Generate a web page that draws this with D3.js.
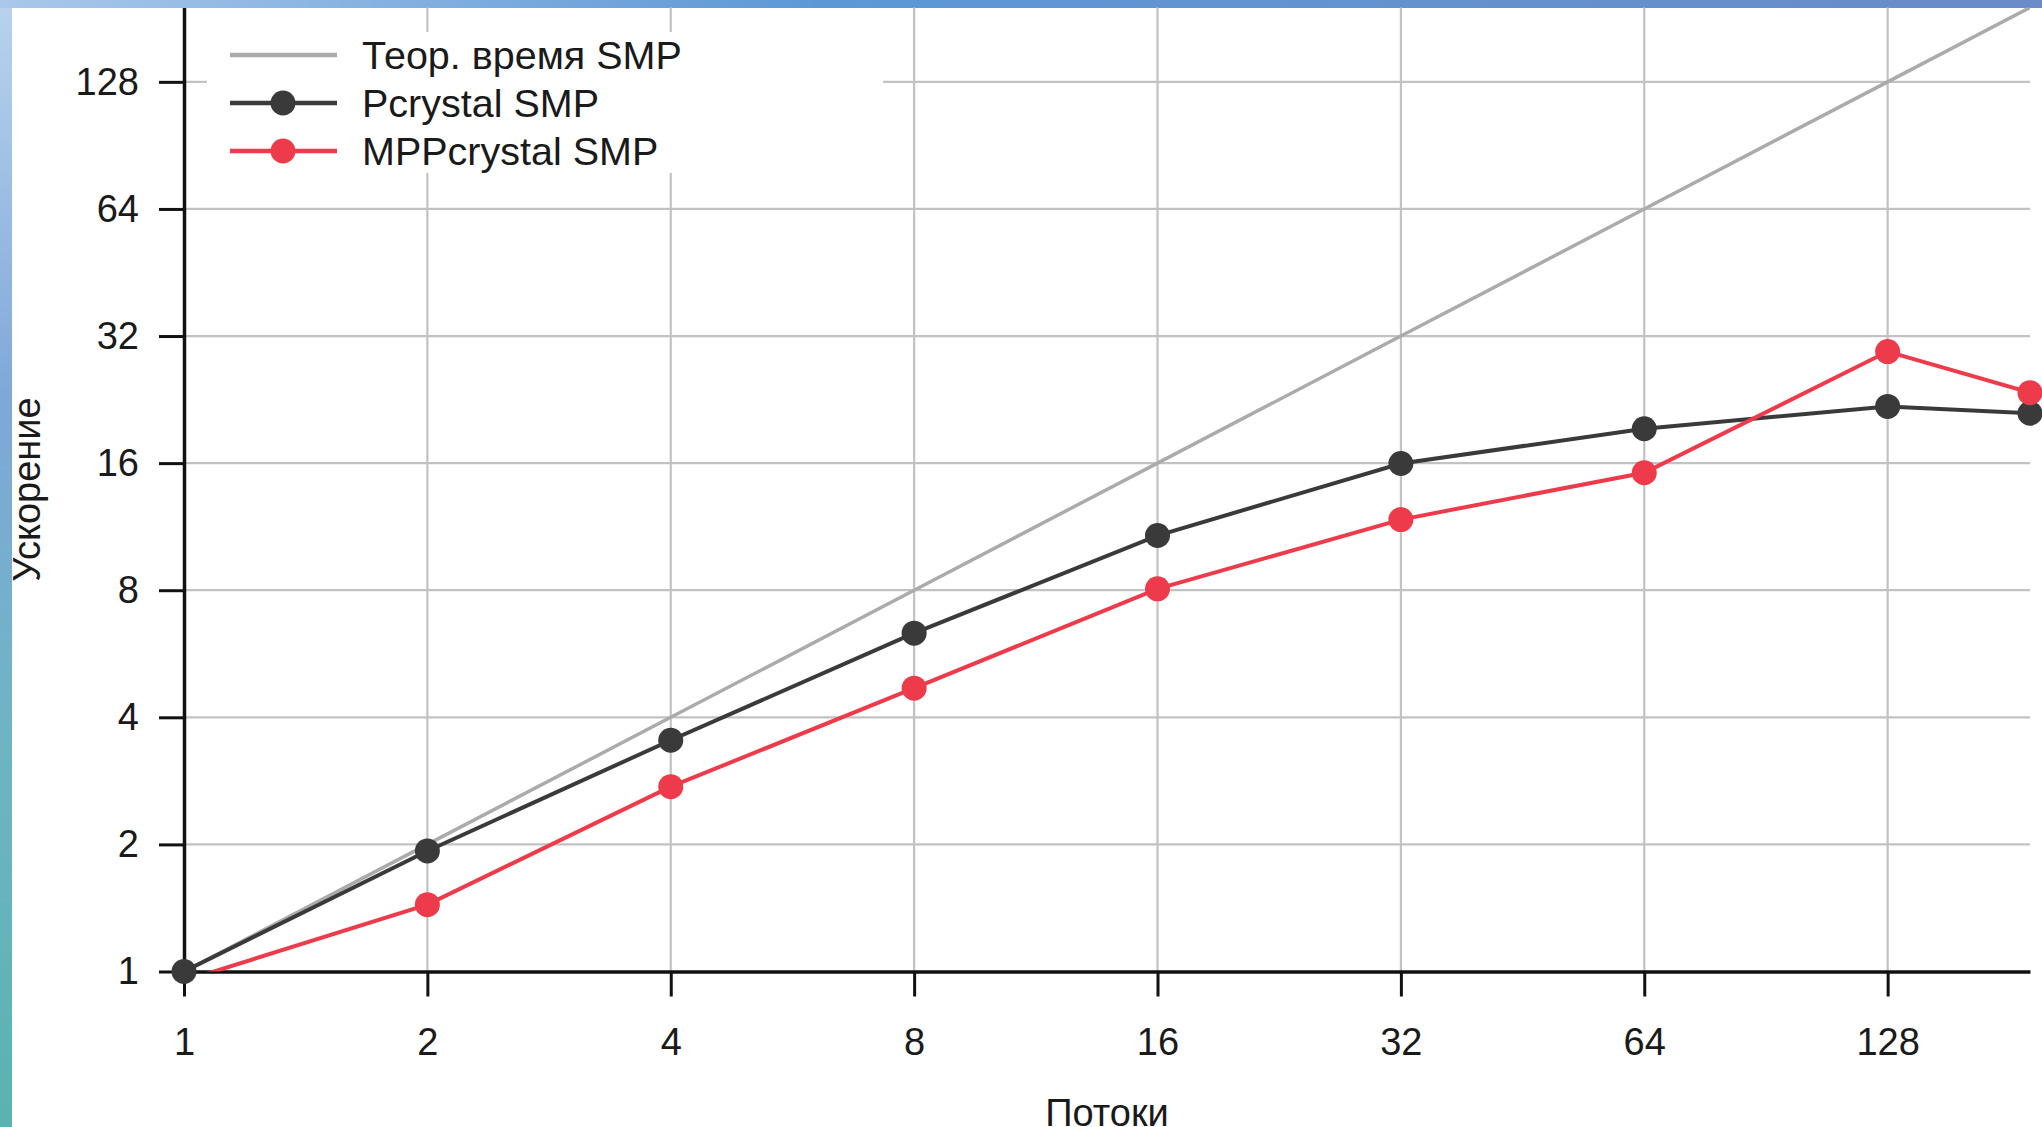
<!DOCTYPE html>
<html>
<head>
<meta charset="utf-8">
<script src="https://cdn.jsdelivr.net/npm/d3@7"></script>
<style>
    html, body { margin: 0; padding: 0; overflow: hidden; }
    body { width: 2042px; height: 1127px; }
    text { font-family: "Liberation Sans", Arial, sans-serif; fill: #1a1a1a; }
</style>
</head>
<body>
<div class="chart-main"></div>
<script>

//////////
// DATA //
//////////

var threads = [1, 2, 4, 8, 16, 32, 64, 128, 192];
var theoretical = [1, 2, 4, 8, 16, 32, 64, 128, 192];
var pcrystal = [1, 1.93, 3.53, 6.33, 10.78, 15.97, 19.3, 21.8, 21.0];
var mppcrystal = [0.95, 1.44, 2.74, 4.69, 8.06, 11.76, 15.18, 29.4, 23.5];

var tickValues = [1, 2, 4, 8, 16, 32, 64, 128];
var seriesNames = ['Теор. время SMP', 'Pcrystal SMP', 'MPPcrystal SMP'];
var xTitle = 'Потоки',
    yTitle = 'Ускорение';

/////////////////////
// INTIAL SETTINGS //
/////////////////////

var W = 2042,
    H = 1127;

// note: "top" is taken by window.top, so plot edges get their own names
var plotLeft = 184,
    plotRight = 2030,
    plotTop = 7.5,
    plotBottom = 971.5;

var colors = ['#ababab', '#3a3a3a', '#ee3b4b'];

//////////////////
// CREATING SVG //
//////////////////

var svg = d3.select('.chart-main')
    .append('svg')
    .attr('width', W)
    .attr('height', H);

var defs = svg.append('defs');

var sideGrad = defs.append('linearGradient')
    .attr('id', 'sideGrad')
    .attr('x1', 0).attr('y1', 0).attr('x2', 0).attr('y2', 1);
sideGrad.append('stop').attr('offset', '0%').attr('stop-color', '#b9d3ee');
sideGrad.append('stop').attr('offset', '35%').attr('stop-color', '#7fa8d8');
sideGrad.append('stop').attr('offset', '65%').attr('stop-color', '#6fb4c4');
sideGrad.append('stop').attr('offset', '100%').attr('stop-color', '#5ab3b0');

var topGrad = defs.append('linearGradient')
    .attr('id', 'topGrad')
    .attr('x1', 0).attr('y1', 0).attr('x2', 1).attr('y2', 0);
topGrad.append('stop').attr('offset', '0%').attr('stop-color', '#a9c8ea');
topGrad.append('stop').attr('offset', '40%').attr('stop-color', '#5d98d6');
topGrad.append('stop').attr('offset', '100%').attr('stop-color', '#6a8cc8');

defs.append('clipPath')
    .attr('id', 'plotClip')
    .append('rect')
    .attr('x', plotLeft)
    .attr('y', plotTop)
    .attr('width', plotRight - plotLeft)
    .attr('height', plotBottom - plotTop);

////////////////
// BACKGROUND //
////////////////

svg.append('rect')
    .attr('width', W)
    .attr('height', H)
    .attr('fill', 'url(#sideGrad)');

svg.append('rect')
    .attr('width', W)
    .attr('height', 8)
    .attr('fill', 'url(#topGrad)');

svg.append('rect')
    .attr('x', 12)
    .attr('y', 8)
    .attr('width', W - 12)
    .attr('height', H - 8)
    .attr('fill', '#ffffff');

////////////
// SCALES //
////////////

var xScale = d3.scaleLog()
    .base(2)
    .domain([1, 192])
    .range([plotLeft, plotRight]);

var yScale = d3.scaleLog()
    .base(2)
    .domain([1, 192])
    .range([plotBottom, plotTop]);

//////////
// GRID //
//////////

var grid = svg.append('g').attr('class', 'grid');

grid.selectAll('.vgrid')
    .data(tickValues.slice(1))
    .enter()
    .append('line')
    .attr('class', 'vgrid')
    .attr('x1', function(d) { return xScale(d); })
    .attr('x2', function(d) { return xScale(d); })
    .attr('y1', plotTop)
    .attr('y2', plotBottom)
    .attr('stroke', '#c2c2c2')
    .attr('stroke-width', 2.2);

grid.selectAll('.hgrid')
    .data(tickValues.slice(1))
    .enter()
    .append('line')
    .attr('class', 'hgrid')
    .attr('x1', plotLeft)
    .attr('x2', plotRight)
    .attr('y1', function(d) { return yScale(d); })
    .attr('y2', function(d) { return yScale(d); })
    .attr('stroke', '#c2c2c2')
    .attr('stroke-width', 2.2);

//////////
// AXIS //
//////////

var xAxis = d3.axisBottom(xScale)
    .tickValues(tickValues)
    .tickFormat(d3.format('d'))
    .tickSize(25)
    .tickPadding(32)
    .tickSizeOuter(0);

var yAxis = d3.axisLeft(yScale)
    .tickValues(tickValues)
    .tickFormat(d3.format('d'))
    .tickSize(25)
    .tickPadding(20)
    .tickSizeOuter(0);

svg.append('g')
    .attr('class', 'axis')
    .attr('transform', 'translate(0,' + plotBottom + ')')
    .call(xAxis);

svg.append('g')
    .attr('class', 'axis')
    .attr('transform', 'translate(' + plotLeft + ',0)')
    .call(yAxis);

svg.selectAll('.axis path')
    .attr('stroke', '#111')
    .attr('stroke-width', 3.5);

svg.selectAll('.axis line')
    .attr('stroke', '#111')
    .attr('stroke-width', 3);

svg.selectAll('.axis text')
    .attr('font-size', 38)
    .attr('fill', '#1a1a1a')
    .style('font-family', '"Liberation Sans", Arial, sans-serif');

// axis titles
svg.append('text')
    .attr('x', (plotLeft + plotRight) / 2)
    .attr('y', 1126)
    .attr('text-anchor', 'middle')
    .attr('font-size', 38)
    .text(xTitle);

svg.append('text')
    .attr('transform', 'translate(40,' + ((plotTop + plotBottom) / 2) + ') rotate(-90)')
    .attr('text-anchor', 'middle')
    .attr('font-size', 38)
    .text(yTitle);

///////////
// LINES //
///////////

function makeSeries(values) {
    return threads.map(function(t, i) { return { x: t, y: values[i] }; });
}

var series = [makeSeries(theoretical), makeSeries(pcrystal), makeSeries(mppcrystal)];

var line = d3.line()
    .x(function(d) { return xScale(d.x); })
    .y(function(d) { return yScale(d.y); });

var plot = svg.append('g');

plot.selectAll('.series-line')
    .data(series)
    .enter()
    .append('path')
    .attr('class', 'series-line')
    .attr('clip-path', 'url(#plotClip)')
    .attr('d', line)
    .attr('fill', 'none')
    .attr('stroke', function(d, i) { return colors[i]; })
    .attr('stroke-width', function(d, i) { return i === 0 ? 3.5 : 4; });

// markers for measured series only
[1, 2].forEach(function(k) {
    plot.selectAll('.dot-' + k)
        .data(series[k].filter(function(d) { return d.y >= 1; }))
        .enter()
        .append('circle')
        .attr('class', 'dot-' + k)
        .attr('cx', function(d) { return xScale(d.x); })
        .attr('cy', function(d) { return yScale(d.y); })
        .attr('r', 12.5)
        .attr('fill', colors[k]);
});

////////////
// LEGEND //
////////////

var legend = svg.append('g').attr('class', 'legend');

legend.append('rect')
    .attr('x', 207)
    .attr('y', 32)
    .attr('width', 676)
    .attr('height', 141)
    .attr('fill', '#ffffff');

var rowY = d3.scaleLinear().domain([0, 2]).range([55, 151]);

var item = legend.selectAll('.legend-item')
    .data(seriesNames)
    .enter()
    .append('g')
    .attr('class', 'legend-item')
    .attr('transform', function(d, i) { return 'translate(0,' + rowY(i) + ')'; });

item.append('line')
    .attr('x1', 230)
    .attr('x2', 337)
    .attr('stroke', function(d, i) { return colors[i]; })
    .attr('stroke-width', 4.5);

item.filter(function(d, i) { return i > 0; })
    .append('circle')
    .attr('cx', 283)
    .attr('r', 12.5)
    .attr('fill', function(d) { return colors[seriesNames.indexOf(d)]; });

item.append('text')
    .attr('x', 362)
    .attr('dy', '0.36em')
    .attr('font-size', 39.5)
    .text(function(d) { return d; });

</script>
</body>
</html>
